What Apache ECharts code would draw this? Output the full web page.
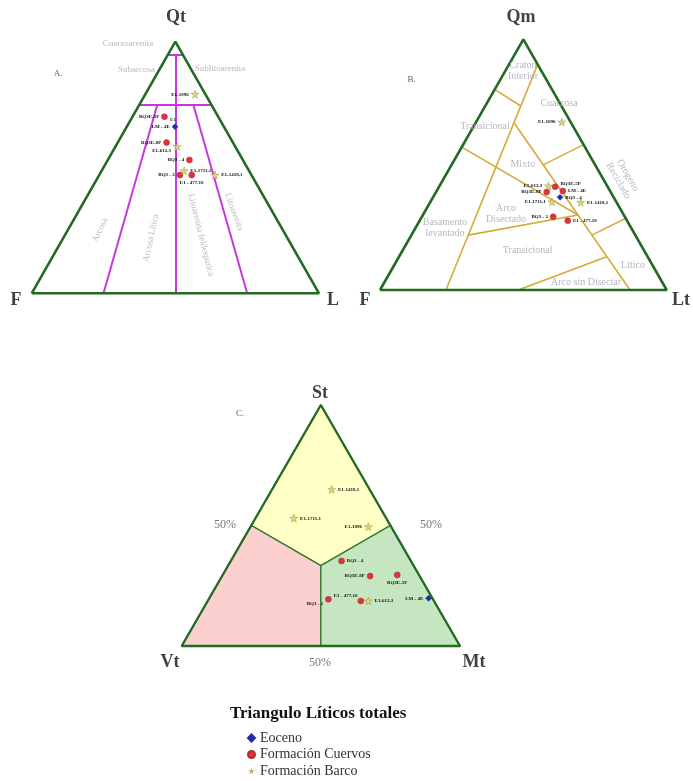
<!DOCTYPE html>
<html><head><meta charset="utf-8">
<script src="https://cdn.jsdelivr.net/npm/echarts@6/dist/echarts.min.js"></script>
<style>html,body{margin:0;padding:0;background:#fff}#c{width:693px;height:781px}</style>
</head><body><div id="c"></div>
<script>
// ---------------- data (ternary: [top, left, right] in %) ----------------
// A. Qt - F - L
const qtFL_cuervos = [[70.2,18.7,11.1],[59.9,23.1,17.0],[53.0,18.6,28.4],[47.0,24.9,28.1],[47.0,20.8,32.2]];
const qtFL_cuervosNames = ['BQ3E-5P','BQ3E-8P','BQ3 - 4','BQ3 - 2','E1 - 477,10'];
const qtFL_eoceno = [[66.2,17.0,16.8]];
const qtFL_eocenoNames = ['LM - 4E'];
const qtFL_barco = [[79.1,3.6,17.3],[58.3,20.2,21.5],[48.7,22.6,28.7],[47.0,12.7,40.3]];
const qtFL_barcoNames = ['E1-1096','E1-612,3','E1-1711,1','E1-1418,1'];

// B. Qm - F - Lt
const qmFLt_cuervos = [[41.2,18.3,40.5],[39.1,22.3,38.6],[39.5,16.5,44.0],[29.2,25.0,45.8],[27.6,20.7,51.7]];
const qmFLt_cuervosNames = ['BQ3E-5P','BQ3E-8P','LM - 4E','BQ3 - 2','E1 - 477,10'];
const qmFLt_eoceno = [[37.0,18.7,44.3]];
const qmFLt_eocenoNames = ['BQ3 - 4'];
const qmFLt_barco = [[67.0,3.1,29.9],[41.5,20.5,38.0],[35.2,22.4,42.4],[35.0,12.5,52.5]];
const qmFLt_barcoNames = ['E1-1096','E1-612,3','E1-1711,1','E1-1418,1'];

// C. St - Vt - Mt
const stVtMt_cuervos = [[35.3,24.9,39.8],[29.0,17.8,53.2],[29.5,7.8,62.7],[19.4,37.6,43.0],[18.7,26.3,55.0]];
const stVtMt_cuervosNames = ['BQ3 - 4','BQ3E-8P','BQ3E-5P','BQ3 - 2','E1 - 477,10'];
const stVtMt_eoceno = [[19.8,1.4,78.8]];
const stVtMt_eocenoNames = ['LM - 4E'];
const stVtMt_barco = [[65.0,13.6,21.4],[53.0,33.2,13.8],[49.5,8.2,42.3],[18.7,23.6,57.7]];
const stVtMt_barcoNames = ['E1-1418,1','E1-1711,1','E1-1096','E1-612,3'];

// field boundaries
const folkLines = [
  [[95,5,0],[95,0,5]],
  [[75,25,0],[75,0,25]],
  [[95,2.5,2.5],[0,50,50]],
  [[75,18.75,6.25],[0,75,25]],
  [[75,6.25,18.75],[0,25,75]]
];
const dickinsonLines = [
  [[90,0,10],[0,77,23]],
  [[80,20,0],[73.4,14.2,12.4]],
  [[66.7,19.9,13.4],[0,12.8,87.2]],
  [[57,43,0],[29.9,16.0,54.1]],
  [[21.9,58.3,19.8],[29.9,16.0,54.1]],
  [[49.9,18.1,32.0],[58,0,42]],
  [[21.9,15.1,63.0],[28.6,0,71.4]],
  [[0,51.8,48.2],[13.3,14.3,72.4]]
];
const c3 = [100/3,100/3,100/3];
const litFields = [
  [[100,0,0],[50,50,0],c3,[50,0,50]],
  [[0,100,0],[0,50,50],c3,[50,50,0]],
  [[0,0,100],[50,0,50],c3,[0,50,50]]
];
const litFieldColors = ['#ffffc6','#fdd0d0','#c6e6c2'];

// ---------------- helpers ----------------
function tern(p){ const s=p[0]+p[1]+p[2]; const t=p[0]/s, r=p[2]/s; return [r+t/2, t]; }
const SERIF = 'Liberation Serif';
const STAR = 'path://M50,0 L61,35 L98,35 L68,57 L79,91 L50,70 L21,91 L32,57 L2,35 L39,35 Z';

const labPos = {
  l:{position:'left'}, r:{position:'right'}, b:{position:'bottom'}, t:{position:'top'},
  bl:{position:'left', offset:[0,4]}, rt:{position:'right', offset:[0,-3]}, tl:{position:'left', offset:[2,-5]}
};
const styleSets = {
  cuervos:{name:'Formación Cuervos', symbol:'circle', size:6, color:'#d8363a', border:'#b82828'},
  eoceno:{name:'Eoceno', symbol:'diamond', size:6, color:'#1c2ea6', border:'#1c2ea6'},
  barco:{name:'Formación Barco', symbol:STAR, size:8, color:'#dcd77c', border:'#9c973c'}
};

function pts(grid, arr, names, pos, key){
  const s = styleSets[key];
  return {
    type:'scatter', name:s.name, xAxisIndex:grid, yAxisIndex:grid, clip:false, z:10,
    symbol:s.symbol, symbolSize:s.size,
    itemStyle:{color:s.color, borderColor:s.border, borderWidth:0.5, opacity:1},
    label:{show:true, formatter:'{b}', fontSize:5, fontWeight:'bold', fontFamily:SERIF, color:'#111', distance:2},
    data: arr.map((p,i)=>({name:names[i], value:tern(p), label:labPos[pos[i]]}))
  };
}
function seg(grid, lines, color, width){
  return {
    type:'lines', coordinateSystem:'cartesian2d', xAxisIndex:grid, yAxisIndex:grid, z:3, silent:true,
    lineStyle:{color:color, width:width, opacity:1},
    data: lines.map(l=>({coords:[tern(l[0]), tern(l[1])]}))
  };
}
function outline(grid, width){
  return {
    type:'line', xAxisIndex:grid, yAxisIndex:grid, symbol:'none', clip:false, z:6, silent:true,
    lineStyle:{color:'#236b23', width:width},
    data:[[0,0],[1,0],[0.5,1],[0,0]]
  };
}

// annotation texts: [grid, x, y, text, style, rotate]
const txt = {
  vertex:{fontSize:18, fontWeight:'bold', color:'#111'},
  field:{fontSize:9, color:'#a8a8a8'},
  fieldB:{fontSize:10, color:'#a4a4b4', lineHeight:11},
  tag:{fontSize:9, color:'#333'},
  pct:{fontSize:12, color:'#555'},
  tiny:{fontSize:5, fontWeight:'bold', color:'#111'}
};
const notes = [
  [0,0.502,1.098,'Qt','vertex',0],[0,-0.055,-0.027,'F','vertex',0],[0,1.049,-0.027,'L','vertex',0],
  [0,0.0916,0.872,'A.','tag',0],
  [0,0.335,0.991,'Cuarzoarenita','field',0],[0,0.365,0.8875,'Subarcosa','field',0],[0,0.655,0.8915,'Sublitoarenita','field',0],
  [0,0.238,0.2516,'Arcosa','field',65],[0,0.415,0.2198,'Arcosa Lítica','field',78],
  [0,0.5893,0.232,'Litoarenita feldespatica','field',-76],[0,0.704,0.323,'Litoarenita','field',-70],
  [0,0.4918,0.6884,'E1','tiny',0],
  [1,0.4918,1.089,'Qm','vertex',0],[1,-0.0523,-0.04,'F','vertex',0],[1,1.05,-0.04,'Lt','vertex',0],
  [1,0.1106,0.8377,'B.','tag',0],
  [1,0.4988,0.8755,'Craton\nInterior','fieldB',0],[1,0.6244,0.746,'Cuarzosa','fieldB',0],
  [1,0.3662,0.654,'Transicional','fieldB',0],[1,0.4977,0.5026,'Mixto','fieldB',0],
  [1,0.8476,0.4467,'Orogeno\nReciclado','fieldB',-60],[1,0.4395,0.305,'Arco\nDisectado','fieldB',0],
  [1,0.2267,0.2493,'Basamento\nlevantado','fieldB',0],[1,0.515,0.1568,'Transicional','fieldB',0],
  [1,0.8825,0.097,'Lítico','fieldB',0],[1,0.7185,0.029,'Arco sin Disectar','fieldB',0],
  [2,0.497,1.05,'St','vertex',0],[2,-0.042,-0.066,'Vt','vertex',0],[2,1.05,-0.066,'Mt','vertex',0],
  [2,0.2095,0.9627,'C.','tag',0],
  [2,0.1556,0.502,'50%','pct',0],[2,0.8958,0.502,'50%','pct',0],[2,0.497,-0.0705,'50%','pct',0]
];
function noteSeries(grid){
  return {
    type:'scatter', xAxisIndex:grid, yAxisIndex:grid, symbolSize:0, clip:false, silent:true, z:8,
    label:{show:true, position:'inside', formatter:'{b}', fontFamily:SERIF},
    data: notes.filter(n=>n[0]===grid).map(n=>({name:n[3], value:[n[1],n[2]],
      label:Object.assign({rotate:n[5]}, txt[n[4]])}))
  };
}

const grids = [
  {left:31.7, top:41.7, width:287.3, height:251.6},
  {left:380, top:39.3, width:286.7, height:250.7},
  {left:181.7, top:405, width:278.3, height:241}
];

const series = [
  {
    type:'custom', xAxisIndex:2, yAxisIndex:2, silent:true, z:1, clip:false,
    renderItem:function(params, api){
      const i = api.value(2);
      const pts = litFields[i].map(p=>api.coord(tern(p)));
      return {type:'polygon', shape:{points:pts}, style:{fill:litFieldColors[i], stroke:'#2f7a2f', lineWidth:1.3}};
    },
    encode:{x:0, y:1},
    data: litFields.map((f,i)=>[0.5,0.5,i])
  },
  seg(0, folkLines, '#c836e0', 2),
  seg(1, dickinsonLines, '#d4ab3a', 1.6),
  outline(0,2.6), outline(1,2.6), outline(2,2.4),
  noteSeries(0), noteSeries(1), noteSeries(2),
  pts(0, qtFL_cuervos, qtFL_cuervosNames, ['l','l','l','l','b'], 'cuervos'),
  pts(0, qtFL_eoceno, qtFL_eocenoNames, ['l'], 'eoceno'),
  pts(0, qtFL_barco, qtFL_barcoNames, ['l','bl','r','r'], 'barco'),
  pts(1, qmFLt_cuervos, qmFLt_cuervosNames, ['rt','l','r','l','r'], 'cuervos'),
  pts(1, qmFLt_eoceno, qmFLt_eocenoNames, ['r'], 'eoceno'),
  pts(1, qmFLt_barco, qmFLt_barcoNames, ['l','l','l','r'], 'barco'),
  pts(2, stVtMt_cuervos, stVtMt_cuervosNames, ['r','l','b','bl','tl'], 'cuervos'),
  pts(2, stVtMt_eoceno, stVtMt_eocenoNames, ['l'], 'eoceno'),
  pts(2, stVtMt_barco, stVtMt_barcoNames, ['r','r','l','r'], 'barco')
];

const chart = echarts.init(document.getElementById('c'), null, {renderer:'canvas'});
chart.setOption({
  animation:false,
  backgroundColor:'#fff',
  title:{text:'Triangulo Líticos totales', left:230, top:705, padding:0,
    textStyle:{fontFamily:SERIF, fontWeight:'bold', fontSize:17, color:'#111'}},
  legend:{orient:'vertical', left:247, top:731, height:50, padding:0, itemWidth:7, itemHeight:7, itemGap:2.5,
    textStyle:{fontFamily:SERIF, fontSize:14, color:'#333', lineHeight:14},
    data:[{name:'Eoceno', icon:'diamond'},{name:'Formación Cuervos', icon:'circle'},
          {name:'Formación Barco', icon:STAR, itemStyle:{color:'#c9ae70', borderWidth:0}}]},
  grid: grids,
  xAxis: grids.map((g,i)=>({gridIndex:i, type:'value', min:0, max:1, show:false})),
  yAxis: grids.map((g,i)=>({gridIndex:i, type:'value', min:0, max:1, show:false})),
  series: series
});
</script></body></html>
